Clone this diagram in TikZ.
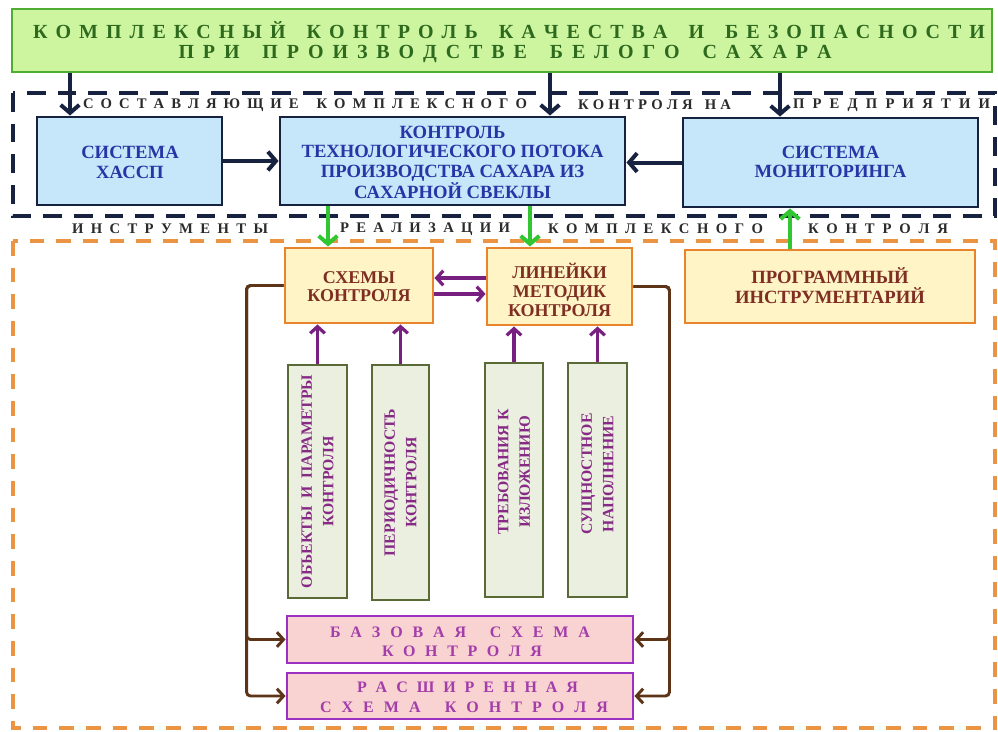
\documentclass[tikz,border=0pt]{standalone}
\usepackage{fontspec}
\setmainfont{Liberation Serif}
\usetikzlibrary{arrows.meta,fit,calc}
\newdimen\px \px=0.75pt
\ExplSyntaxOn
\NewDocumentCommand \spreadto { m m }
  {
    \hbox_to_wd:nn { #1 }
      {
        \str_map_inline:nn { #2 }
          {
            \str_if_eq:nnTF { ##1 } { ~ }
              { \hskip 0.25em plus 1fil }
              { ##1 \hskip 0pt plus 1fil }
          }
        \unskip
      }
  }
\ExplSyntaxOff
\definecolor{titlefill}{HTML}{CDF5A0}
\definecolor{titledraw}{HTML}{4FAE32}
\definecolor{titletext}{HTML}{2E6A1E}
\definecolor{navy}{HTML}{16223F}
\definecolor{bluefill}{HTML}{C6E6F9}
\definecolor{bluetext}{HTML}{2636A6}
\definecolor{labeltext}{HTML}{2B2B2B}
\definecolor{orangedash}{HTML}{EB9443}
\definecolor{yelfill}{HTML}{FFF4C6}
\definecolor{yeldraw}{HTML}{E8842C}
\definecolor{yeltext}{HTML}{7E2E22}
\definecolor{greenarr}{HTML}{33C633}
\definecolor{purplearr}{HTML}{782080}
\definecolor{vfill}{HTML}{EBEFDF}
\definecolor{vdraw}{HTML}{5A6A36}
\definecolor{vtext}{HTML}{862A86}
\definecolor{pinkfill}{HTML}{F9D2D2}
\definecolor{pinkdraw}{HTML}{9C30C0}
\definecolor{pinktext}{HTML}{A23DAA}
\definecolor{brownline}{HTML}{5E3418}
\begin{document}
\begin{tikzpicture}[x=0.75pt,y=-0.75pt,
  basebox/.style={draw, line width=2.2pt, inner sep=0pt},
  titlebox/.style={basebox, fill=titlefill, draw=titledraw},
  titletxt/.style={inner sep=0pt, text=titletext, font=\bfseries\fontsize{15}{17}\selectfont},
  bluebox/.style={basebox, fill=bluefill, draw=navy},
  bluetxt/.style={inner sep=0pt, align=center, text=bluetext, font=\bfseries\fontsize{14}{14.8}\selectfont},
  yelbox/.style={basebox, fill=yelfill, draw=yeldraw},
  yeltxt/.style={inner sep=0pt, align=center, text=yeltext, font=\bfseries\fontsize{13.5}{14}\selectfont},
  vbox/.style={basebox, fill=vfill, draw=vdraw},
  vtxt/.style={inner sep=0pt, align=center, text=vtext, rotate=90, font=\bfseries\fontsize{11.8}{16}\selectfont},
  pinkbox/.style={basebox, fill=pinkfill, draw=pinkdraw},
  pinktxt/.style={inner sep=0pt, text=pinktext, font=\bfseries\fontsize{12}{12}\selectfont},
  lbl/.style={inner sep=0pt, text=labeltext, font=\bfseries\fontsize{11}{12}\selectfont},
  navydash/.style={draw=navy, line width=2.3pt, dash pattern=on 14pt off 9pt},
  orangedashed/.style={draw=orangedash, line width=2.6pt, dash pattern=on 11pt off 9pt},
  navyarrow/.style={draw=navy, line width=3pt, -{Straight Barb[length=6pt,width=14pt]}},
  greenarrow/.style={draw=greenarr, line width=3pt, -{Straight Barb[length=6pt,width=14pt]}},
  purplearrow/.style={draw=purplearr, line width=2.4pt, -{Straight Barb[length=5pt,width=11pt]}},
  brownarrow/.style={draw=brownline, line width=2.2pt, rounded corners=3pt, -{Straight Barb[length=5pt,width=11pt]}}
]
\useasboundingbox (0,0) rectangle (998,731);
\fill[white] (0,0) rectangle (998,731);

% dashed frames
\draw[navydash] (13,93) rectangle (995,216);
\draw[orangedashed] (13,241) rectangle (995,728);

% title
\node[titlebox, fit={(12,9) (992,72)}] (title) {};
\node[titletxt] (t1) at (509,30) {\spreadto{952\px}{КОМПЛЕКСНЫЙ КОНТРОЛЬ КАЧЕСТВА И БЕЗОПАСНОСТИ}};
\node[titletxt] (t2) at (505,54) {\spreadto{653\px}{ПРИ ПРОИЗВОДСТВЕ БЕЛОГО САХАРА}};

% labels
\node[lbl] (l1) at (305,105) {\spreadto{444\px}{СОСТАВЛЯЮЩИЕ КОМПЛЕКСНОГО}};
\node[lbl] (l2) at (654.5,105) {\spreadto{153\px}{КОНТРОЛЯ НА}};
\node[lbl] (l3) at (891.5,105) {\spreadto{197\px}{ПРЕДПРИЯТИИ}};
\node[lbl] (l4) at (170,229) {\spreadto{196\px}{ИНСТРУМЕНТЫ}};
\node[lbl] (l5) at (425,229) {\spreadto{170\px}{РЕАЛИЗАЦИИ}};
\node[lbl] (l6) at (655.5,229) {\spreadto{215\px}{КОМПЛЕКСНОГО}};
\node[lbl] (l7) at (878,229) {\spreadto{140\px}{КОНТРОЛЯ}};

% blue boxes
\node[bluebox, fit={(37,117) (222,205)}] (hassp) {};
\node[bluebox, fit={(280,117) (625,205)}] (central) {};
\node[bluebox, fit={(683,118) (978,207)}] (mon) {};
\node[bluetxt] (hassp-t) at (130,162.5) {СИСТЕМА\\ХАССП};
\node[bluetxt] (central-t) at (452.5,162.5) {КОНТРОЛЬ\\ТЕХНОЛОГИЧЕСКОГО ПОТОКА\\ПРОИЗВОДСТВА САХАРА ИЗ\\САХАРНОЙ СВЕКЛЫ};
\node[bluetxt] (mon-t) at (830.5,162) {СИСТЕМА\\МОНИТОРИНГА};

% yellow boxes
\node[yelbox, fit={(285,248) (433,323)}] (schemy) {};
\node[yelbox, fit={(487,248) (632,325)}] (lin) {};
\node[yelbox, fit={(685,250) (975,323)}] (prog) {};
\node[yeltxt] (schemy-t) at (359,286.5) {СХЕМЫ\\КОНТРОЛЯ};
\node[yeltxt] (lin-t) at (559.5,290) {ЛИНЕЙКИ\\МЕТОДИК\\КОНТРОЛЯ};
\node[yeltxt, font=\bfseries\fontsize{14}{15}\selectfont] (prog-t) at (830,285.5) {ПРОГРАММНЫЙ\\ИНСТРУМЕНТАРИЙ};

% vertical boxes
\node[vbox, fit={(288,365) (347,598)}] (v1) {};
\node[vbox, fit={(372,365) (429,600)}] (v2) {};
\node[vbox, fit={(485,363) (543,597)}] (v3) {};
\node[vbox, fit={(568,363) (627,597)}] (v4) {};
\node[vtxt] (v1t) at (v1) {ОБЪЕКТЫ\ \ И\ \ ПАРАМЕТРЫ\\КОНТРОЛЯ};
\node[vtxt] (v2t) at (v2) {ПЕРИОДИЧНОСТЬ\\КОНТРОЛЯ};
\node[vtxt] (v3t) at ($(v3)+(0,-8)$) {ТРЕБОВАНИЯ К\\ИЗЛОЖЕНИЮ};
\node[vtxt] (v4t) at ($(v4)+(0,-6)$) {СУЩНОСТНОЕ\\НАПОЛНЕНИЕ};

% pink boxes
\node[pinkbox, fit={(287,616) (633,663)}] (base) {};
\node[pinkbox, fit={(287,673) (633,719)}] (ext) {};
\node[pinktxt] (b1) at (460,632) {\spreadto{260\px}{БАЗОВАЯ СХЕМА}};
\node[pinktxt] (b2) at (462,651) {\spreadto{160\px}{КОНТРОЛЯ}};
\node[pinktxt] (e1) at (467.5,687) {\spreadto{221\px}{РАСШИРЕННАЯ}};
\node[pinktxt] (e2) at (464,707) {\spreadto{288\px}{СХЕМА КОНТРОЛЯ}};

% navy arrows from title
\coordinate (a1) at ([shift={(-59.5,0)}]hassp.north);
\coordinate (a2) at ([shift={(97.5,0)}]central.north);
\coordinate (a3) at ([shift={(-50.5,0)}]mon.north);
\draw[navyarrow] (a1 |- title.south) -- (a1);
\draw[navyarrow] (a2 |- title.south) -- (a2);
\draw[navyarrow] (a3 |- title.south) -- (a3);
\draw[navyarrow] (hassp.east) -- (central.west);
\draw[navyarrow] (mon.west) -- (mon.west -| central.east);

% green arrows
\coordinate (g1) at ([shift={(-31,0)}]schemy.north);
\coordinate (g2) at ([shift={(-29.5,0)}]lin.north);
\coordinate (g3) at ([shift={(-40,0)}]prog.north);
\draw[greenarrow] (g1 |- central.south) -- (g1);
\draw[greenarrow] (g2 |- central.south) -- (g2);
\draw[greenarrow] (g3) -- (g3 |- mon.south);

% purple arrows
\draw[purplearrow] ([shift={(0,-8.5)}]lin.west) -- ([shift={(0,-8.5)}]lin.west -| schemy.east);
\draw[purplearrow] ([shift={(0,8.5)}]schemy.east) -- ([shift={(0,8.5)}]schemy.east -| lin.west);
\draw[purplearrow] (v1.north) -- (v1.north |- schemy.south);
\draw[purplearrow] (v2.north) -- (v2.north |- schemy.south);
\draw[purplearrow] (v3.north) -- (v3.north |- lin.south);
\draw[purplearrow] (v4.north) -- (v4.north |- lin.south);

% brown connectors
\draw[brownarrow] (schemy.west) -- ++(-37,0) |- (base.west);
\draw[brownarrow] (schemy.west) -- ++(-37,0) |- (ext.west);
\draw[brownarrow] (lin.east) -- ++(36,0) |- (base.east);
\draw[brownarrow] (lin.east) -- ++(36,0) |- (ext.east);
\end{tikzpicture}
\end{document}
